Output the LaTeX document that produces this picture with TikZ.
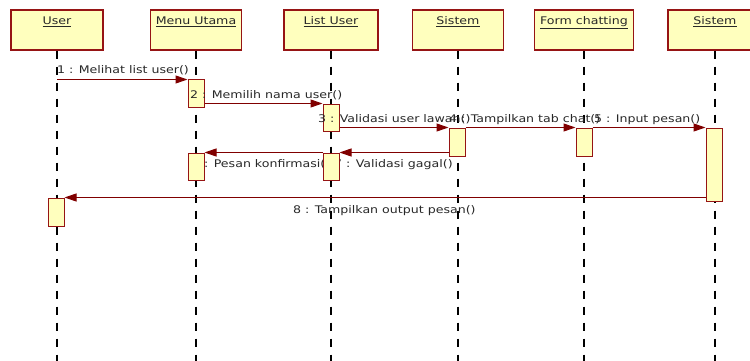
\documentclass[tikz,border=0pt]{standalone}
\usepackage{fontspec}
\setmainfont{DejaVu Sans}[FakeStretch=1.2]
\usetikzlibrary{arrows.meta}
\definecolor{boxfill}{RGB}{255,255,190}
\definecolor{boxline}{RGB}{150,20,20}
\definecolor{msgline}{RGB}{128,0,0}
\definecolor{txt}{RGB}{40,40,40}
\begin{document}
\begin{tikzpicture}[x=1pt,y=-1pt,
 head/.style={draw=boxline, fill=boxfill, line width=1.1pt, minimum height=40pt, inner sep=0pt},
 headtxt/.style={anchor=base, inner sep=0pt, text=txt, font=\fontsize{10.5}{12}\selectfont},
 life/.style={draw=black, line width=1.2pt, dash pattern=on 8pt off 8pt},
 act/.style={draw=boxline, fill=boxfill, line width=1pt, minimum width=16pt, inner sep=0pt},
 msg/.style={draw=msgline, line width=1pt, -{Triangle[length=12pt,width=8pt]}},
 lbl/.style={anchor=base west, inner sep=0pt, text=txt, font=\fontsize{10.5}{12}\selectfont}]
\useasboundingbox (0,0) rectangle (750,361);
\clip (0,0) rectangle (750,361);
% heads
\node[head, minimum width=92pt] (userH) at (57,30) {};
\node[head, minimum width=91pt] (menuH) at (196,30) {};
\node[head, minimum width=94pt] (listH) at (331,30) {};
\node[head, minimum width=91pt] (sisH) at (458,30) {};
\node[head, minimum width=99pt] (formH) at (584,30) {};
\node[head, minimum width=94pt] (sis2H) at (715,30) {};
\node[headtxt] (userT) at (57,24.5) {\underline{User}};
\node[headtxt] (menuT) at (196,24.5) {\underline{Menu Utama}};
\node[headtxt] (listT) at (331,24.5) {\underline{List User}};
\node[headtxt] (sisT) at (458,24.5) {\underline{Sistem}};
\node[headtxt] (formT) at (584,24.5) {\underline{Form chatting}};
\node[headtxt] (sis2T) at (715,24.5) {\underline{Sistem}};
% lifelines
\foreach \h in {userH,menuH,listH,sisH,formH,sis2H}
  \draw[life] (\h.south) -- (\h.south |- 0,365);
% message 1
\node[act, minimum height=27pt] (menu1) at (196,93.5) {};
\draw[msg] (userH.south |- menu1.north west) -- (menu1.north west);
\node[lbl] (l1) at (57,74) {1 : Melihat list user()};
% message 2
\node[act, minimum height=27pt] (list1) at (331,117.5) {};
\draw[msg] (menu1.east |- list1.north) -- (list1.north west);
\node[lbl] (l2) at (190,98.5) {2 : Memilih nama user()};
% messages 3-5
\node[act, minimum height=28pt] (sis1) at (457,142) {};
\node[act, minimum height=28pt] (form1) at (584,142) {};
\node[act, minimum height=73pt] (sis2) at (714,164.5) {};
\draw[msg] (list1.east |- sis1.north) -- (sis1.north west);
\draw[msg] (sis1.north east) -- (form1.north west);
\draw[msg] (form1.north east) -- (sis2.north west);
\node[lbl] (l3) at (318,122.5) {3 : Validasi user lawan()};
\node[lbl] (l4) at (449,122.5) {4 : Tampilkan tab chat()};
\node[lbl] (l5) at (594,122.5) {5 : Input pesan()};
% messages 6-7
\node[lbl] (l6) at (192,167) {6 : Pesan konfirmasi()};
\node[lbl] (l7) at (334,167) {7 : Validasi gagal()};
\node[act, minimum height=27pt] (list2) at (331,166.5) {};
\node[act, minimum height=27pt] (menu2) at (196,166.5) {};
\draw[msg] (sis1.west |- list2.north) -- (list2.north east);
\draw[msg] (list2.north west) -- (menu2.north east);
% message 8
\node[lbl] (l8) at (293,213) {8 : Tampilkan output pesan()};
\node[act, minimum height=28pt] (user1) at (56,212) {};
\draw[msg] (sis2.west |- user1.north) -- (user1.north east);
\end{tikzpicture}
\end{document}
